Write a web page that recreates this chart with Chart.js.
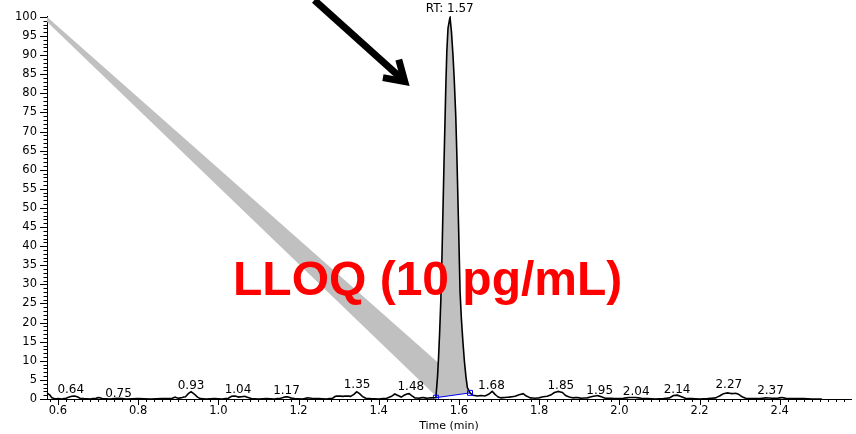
<!DOCTYPE html>
<html>
<head>
  <meta charset="UTF-8">
  <title>LLOQ chromatogram</title>
  <script src="https://cdn.jsdelivr.net/npm/chart.js"></script>
  <style>
    body {
      margin: 0;
      padding: 0;
      background: #fff;
    }
    #chart-container {
      width: 856px;
      height: 434px;
    }
  </style>
</head>
<body>
  <div id="chart-container">
    <canvas id="myChart"></canvas>
  </div>
  <script>
    // baseline trace before the peak (time in min, relative abundance)
    const leftTimes = [0.573, 0.580, 0.585, 0.592, 0.600, 0.610, 0.620, 0.630, 0.640, 0.648, 0.655, 0.665, 0.680, 0.695, 0.702, 0.710, 0.730, 0.750, 0.770, 0.800, 0.830, 0.860, 0.885, 0.892, 0.900, 0.910, 0.918, 0.925, 0.932, 0.940, 0.948, 0.955, 0.970, 0.990, 1.010, 1.025, 1.033, 1.042, 1.050, 1.058, 1.066, 1.074, 1.082, 1.100, 1.120, 1.140, 1.155, 1.165, 1.172, 1.180, 1.190, 1.210, 1.222, 1.232, 1.250, 1.270, 1.285, 1.292, 1.300, 1.310, 1.320, 1.330, 1.338, 1.345, 1.352, 1.360, 1.368, 1.380, 1.400, 1.420, 1.432, 1.440, 1.448, 1.456, 1.462, 1.470, 1.476, 1.482, 1.490, 1.500, 1.510, 1.520, 1.530];
    const leftIntensity = [1.6, 1.0, 0.3, 0.05, 0.1, 0.0, 0.2, 0.6, 0.8, 0.6, 0.2, 0.1, 0.0, 0.2, 0.4, 0.1, 0.0, 0.2, 0.0, 0.1, 0.0, 0.1, 0.2, 0.5, 0.2, 0.4, 0.6, 1.4, 1.9, 1.3, 0.5, 0.1, 0.0, 0.1, 0.0, 0.2, 0.7, 0.8, 0.5, 0.6, 0.7, 0.4, 0.1, 0.0, 0.1, 0.0, 0.2, 0.5, 0.6, 0.3, 0.1, 0.0, 0.3, 0.2, 0.1, 0.0, 0.2, 0.7, 0.8, 0.7, 0.8, 0.7, 1.2, 1.9, 1.4, 0.6, 0.2, 0.1, 0.0, 0.2, 0.7, 1.3, 0.9, 0.5, 0.9, 1.3, 1.4, 0.9, 0.3, 0.2, 0.4, 0.2, 0.3];

    // integrated peak
    const peakTimes = [1.5425, 1.5467, 1.5492, 1.5517, 1.5549, 1.5578, 1.5603, 1.5628, 1.5653, 1.5673, 1.5698, 1.5727, 1.5777, 1.5814, 1.5851, 1.5881, 1.5921, 1.5950, 1.5975, 1.6000, 1.6028, 1.6061, 1.6099, 1.6135, 1.6173, 1.6210, 1.6276];
    const peakIntensity = [0.35, 6, 11, 17, 26, 38, 50, 62, 73, 82, 91, 97, 100, 96, 90, 84, 74, 63, 52, 41, 28, 21, 15, 10, 6, 3, 1.6];

    // baseline trace after the peak
    const rightTimes = [1.635, 1.645, 1.655, 1.665, 1.675, 1.683, 1.690, 1.698, 1.705, 1.715, 1.725, 1.740, 1.750, 1.760, 1.768, 1.778, 1.790, 1.800, 1.810, 1.820, 1.830, 1.838, 1.848, 1.858, 1.866, 1.875, 1.885, 1.895, 1.905, 1.920, 1.935, 1.945, 1.955, 1.965, 1.980, 1.995, 2.010, 2.025, 2.040, 2.055, 2.070, 2.090, 2.110, 2.125, 2.135, 2.145, 2.155, 2.165, 2.180, 2.200, 2.220, 2.240, 2.250, 2.260, 2.270, 2.280, 2.290, 2.298, 2.306, 2.315, 2.330, 2.350, 2.365, 2.380, 2.395, 2.405, 2.415, 2.430, 2.460, 2.480, 2.505];
    const rightIntensity = [1.0, 0.8, 0.9, 0.8, 1.3, 2.0, 1.2, 0.5, 0.3, 0.4, 0.5, 0.7, 1.1, 1.4, 0.8, 0.3, 0.2, 0.3, 0.6, 0.7, 1.1, 1.7, 2.0, 1.7, 0.9, 0.5, 0.3, 0.4, 0.2, 0.3, 0.7, 0.9, 0.6, 0.2, 0.2, 0.1, 0.2, 0.4, 0.4, 0.2, 0.1, 0.0, 0.1, 0.3, 0.9, 1.0, 0.6, 0.2, 0.1, 0.0, 0.1, 0.3, 0.8, 1.4, 1.6, 1.4, 1.5, 1.2, 0.6, 0.2, 0.1, 0.1, 0.3, 0.2, 0.2, 0.4, 0.2, 0.1, 0.1, 0.0, 0.0];

    // integration baseline (peak start / end)
    const baselineTimes = [1.5425, 1.6276];
    const baselineIntensity = [0.35, 1.6];

    // grey pointer band from the top-left corner down to the peak
    const bandTimes = [0.5727, 1.626, 1.5425, 0.5727];
    const bandIntensity = [100, 2.3, 0.8, 98.7];

    // black arrow (shaft start, tip, wings)
    const arrowTimes = [1.2394, 1.4649, 1.4500, 1.4104];
    const arrowIntensity = [104.4, 83.07, 88.8, 84.1];

    // peak labels
    const labelTexts = ['0.64', '0.75', '0.93', '1.04', '1.17', '1.35', '1.48', '1.68', '1.85', '1.95', '2.04', '2.14', '2.27', '2.37', 'RT: 1.57'];
    const labelTimes = [0.632, 0.751, 0.932, 1.049, 1.170, 1.346, 1.480, 1.681, 1.854, 1.951, 2.042, 2.144, 2.273, 2.377, 1.577];
    const labelHeights = [1.6, 0.5, 2.6, 1.6, 1.3, 2.9, 2.3, 2.7, 2.7, 1.4, 1.0, 1.6, 2.9, 1.4, 101.3];

    const titleText = 'LLOQ (10 pg/mL)';
    const titleTime = 1.522;
    const titleLevel = 27.1;

    const xTickValues = [0.6, 0.8, 1.0, 1.2, 1.4, 1.6, 1.8, 2.0, 2.2, 2.4];

    const pts = (xs, ys) => xs.map((t, i) => ({ x: t, y: ys[i] }));
    const traceData = pts(leftTimes, leftIntensity)
      .concat(pts(peakTimes, peakIntensity))
      .concat(pts(rightTimes, rightIntensity));

    const smallFont = '"DejaVu Sans", sans-serif';
    const straight = 0.0001; // tiny tension: keeps Chart.js off its pixel-column fast path
    Chart.defaults.color = '#000';

    const annotations = {
      id: 'annotations',
      afterDatasetsDraw(chart) {
        const { ctx } = chart;
        const x = chart.scales.x, y = chart.scales.y;
        const px = i => x.getPixelForValue(arrowTimes[i]);
        const py = i => y.getPixelForValue(arrowIntensity[i]);
        ctx.save();

        ctx.fillStyle = '#000';
        ctx.font = '12px ' + smallFont;
        ctx.textAlign = 'center';
        ctx.textBaseline = 'alphabetic';
        labelTexts.forEach((txt, i) => {
          ctx.fillText(txt, x.getPixelForValue(labelTimes[i]), y.getPixelForValue(labelHeights[i]));
        });

        // arrow
        ctx.strokeStyle = '#000';
        ctx.lineWidth = 7;
        ctx.lineJoin = 'miter';
        ctx.beginPath();
        ctx.moveTo(px(0), py(0));
        ctx.lineTo(px(1) - 2, py(1) - 2);
        ctx.stroke();
        ctx.beginPath();
        ctx.moveTo(px(2), py(2));
        ctx.lineTo(px(1), py(1));
        ctx.lineTo(px(3), py(3));
        ctx.stroke();

        ctx.fillStyle = '#ff0000';
        ctx.font = 'bold 48px "Liberation Sans", Arial, sans-serif';
        ctx.fillText(titleText, x.getPixelForValue(titleTime), y.getPixelForValue(titleLevel));
        ctx.restore();
      },
      afterDraw(chart) {
        // major + minor tick marks
        const { ctx, chartArea } = chart;
        const x = chart.scales.x, y = chart.scales.y;
        ctx.save();
        ctx.strokeStyle = '#000';
        ctx.lineWidth = 1;
        ctx.beginPath();
        for (let v = 0; v <= 100; v++) {
          const p = Math.round(y.getPixelForValue(v)) + 0.5;
          const len = v % 5 === 0 ? 7 : 3.5;
          ctx.moveTo(chartArea.left - len, p);
          ctx.lineTo(chartArea.left, p);
        }
        for (let k = 29; k <= 128; k++) {
          const v = k / 50;
          const p = Math.round(x.getPixelForValue(v)) + 0.5;
          const len = k % 10 === 0 ? 6 : 3;
          ctx.moveTo(p, chartArea.bottom);
          ctx.lineTo(p, chartArea.bottom + len);
        }
        ctx.stroke();
        ctx.restore();
      }
    };

    const ctx = document.getElementById('myChart').getContext('2d');
    window.myChart = new Chart(ctx, {
      type: 'line',
      data: {
        datasets: [
          {
            label: 'trace',
            data: traceData,
            borderColor: '#000',
            borderWidth: 1.6,
            pointRadius: 0,
            tension: straight,
            fill: false,
            clip: false,
            order: 1
          },
          {
            label: 'baseline',
            data: pts(baselineTimes, baselineIntensity),
            borderColor: '#0000ff',
            borderWidth: 1,
            pointStyle: 'rect',
            pointRadius: 3.5,
            pointBorderColor: '#0000ff',
            pointBackgroundColor: 'rgba(0,0,0,0)',
            pointBorderWidth: 1,
            tension: 0,
            fill: false,
            order: 0
          },
          {
            label: 'peak area',
            data: pts(peakTimes, peakIntensity),
            borderWidth: 0,
            borderColor: 'rgba(0,0,0,0)',
            backgroundColor: '#c0c0c0',
            pointRadius: 0,
            tension: straight,
            fill: 1,
            order: 2
          },
          {
            label: 'band',
            data: pts(bandTimes, bandIntensity),
            borderWidth: 0,
            borderColor: 'rgba(0,0,0,0)',
            backgroundColor: '#c0c0c0',
            pointRadius: 0,
            tension: 0,
            fill: 'shape',
            order: 3
          }
        ]
      },
      options: {
        responsive: true,
        maintainAspectRatio: false,
        animation: false,
        layout: { padding: { top: 15, left: 0, right: 0, bottom: 0 } },
        plugins: {
          legend: { display: false },
          tooltip: { enabled: false }
        },
        scales: {
          x: {
            type: 'linear',
            min: 0.5727,
            max: 2.5777,
            grid: { display: false, drawTicks: false },
            border: { display: true, color: '#000', width: 1 },
            afterBuildTicks: s => { s.ticks = xTickValues.map(v => ({ value: v })); },
            afterFit: s => { s.height = 35; },
            ticks: {
              padding: 5,
              maxRotation: 0,
              autoSkip: false,
              font: { family: smallFont, size: 11.5 },
              callback: v => Number(v).toFixed(1)
            },
            title: {
              display: true,
              text: 'Time (min)',
              font: { family: smallFont, size: 11 },
              padding: { top: 0, bottom: 1 }
            }
          },
          y: {
            min: 0,
            max: 100,
            grid: { display: false, drawTicks: false },
            border: { display: true, color: '#000', width: 1 },
            afterFit: s => { s.width = 47; },
            ticks: {
              stepSize: 5,
              padding: 10,
              font: { family: smallFont, size: 11.5 }
            }
          }
        }
      },
      plugins: [annotations]
    });
  </script>
</body>
</html>
